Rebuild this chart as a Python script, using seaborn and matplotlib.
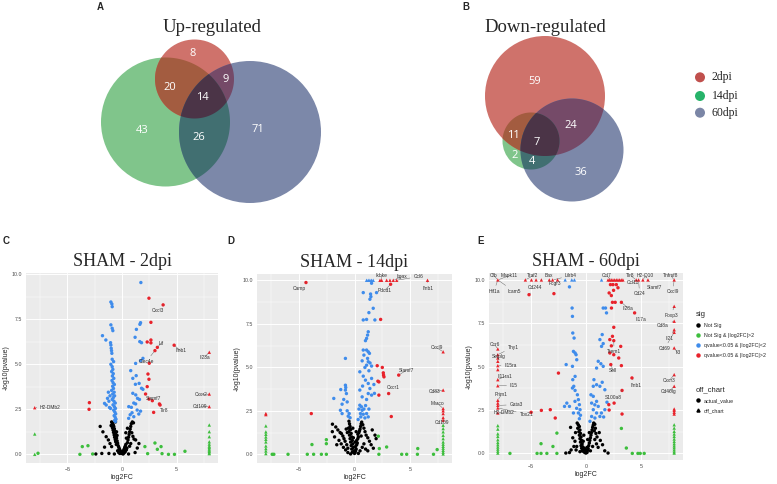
import numpy as np
import pandas as pd
import matplotlib
matplotlib.use("Agg")
import matplotlib.pyplot as plt
import seaborn as sns
from matplotlib.lines import Line2D
from matplotlib.patches import Circle, Polygon

# --------------------------------------------------------------------------- #
# Datos
# --------------------------------------------------------------------------- #
UP_COUNTS = ["8", "20", "9", "14", "43", "26", "71"]          # 2, 2&14, 2&60, all, 14, 14&60, 60
DOWN_COUNTS = ["59", "11", "7", "24", "2", "4", "36"]         # 2, 2&14, all, 2&60, 14, 14&60, 60
VENN_SETS = ["2dpi", "14dpi", "60dpi"]

SIG_ORDER = ["Not Sig", "Not Sig & |log2FC|>2",
             "qvalue<0.05 & |log2FC|<2", "qvalue<0.05 & |log2FC|>2"]
SHAPE_ORDER = ["actual_value", "off_chart"]
PANEL_TITLES = ["SHAM - 2dpi", "SHAM - 14dpi", "SHAM - 60dpi"]

# ---- SHAM - 2dpi (log2FC, -log10 p) ----
c_black = [(-0.90, 1.75), (-0.85, 1.68), (-0.80, 1.62), (-0.75, 1.55), (-0.88, 1.48), (-0.70, 1.42),
           (-0.82, 1.35), (-0.65, 1.30), (-0.78, 1.22), (-0.60, 1.15), (-0.72, 1.08), (-0.55, 1.02),
           (-0.68, 0.95), (-0.50, 0.90), (-0.62, 0.82), (-0.45, 0.75), (-0.58, 0.70), (-0.40, 0.62),
           (-0.52, 0.55), (-0.35, 0.48), (-0.30, 0.40), (-0.25, 0.32), (-0.20, 0.25), (-0.15, 0.18),
           (-0.10, 0.12), (-0.05, 0.08), (0.00, 0.05), (0.05, 0.10), (0.10, 0.15), (0.15, 0.22),
           (0.20, 0.30), (0.25, 0.38), (0.30, 0.45), (0.35, 0.55), (-0.40, 0.20), (-0.30, 0.10),
           (-0.20, 0.05), (0.10, 0.02), (0.20, 0.08), (0.30, 0.15), (0.40, 0.25), (0.45, 0.35),
           (0.50, 0.65), (0.55, 0.80), (0.60, 0.95), (0.65, 1.10), (0.70, 1.25), (0.75, 1.40),
           (0.80, 1.55), (0.85, 1.70), (0.95, 1.80), (1.05, 1.75), (0.90, 1.20), (1.00, 1.00),
           (1.10, 0.85), (0.80, 0.60), (0.70, 0.45), (-2.00, 1.55), (-1.75, 1.25), (-1.45, 0.98),
           (-1.25, 0.80), (-1.10, 0.60), (-0.95, 0.43), (-1.85, 0.05), (-1.20, 0.05), (-0.70, 0.02),
           (1.25, 0.80), (1.55, 0.60), (1.40, 0.35), (1.20, 0.10), (0.60, 0.02), (-0.95, 1.80),
           (-0.60, 1.80), (-1.00, 1.60), (-0.50, 1.25), (-0.45, 1.05), (0.40, 0.90), (0.35, 1.20),
           (0.50, 1.45), (-1.60, 0.40), (-2.40, 0.02)]
c_green = [(-8, 1.13), (-8, 0.0), (-7.7, 0.06), (-3.64, 0.43), (-3.12, 0.48), (-2.69, 0.02),
           (-3.86, 0.0), (2.10, 0.43), (2.35, 0.04), (3.02, 0.63), (3.24, 0.28), (3.58, 0.43),
           (3.67, 0.04), (4.26, 0.0), (4.81, 0.0), (5.77, 0.17), (8, 1.63), (8, 1.26), (8, 0.98),
           (8, 0.70), (8, 0.57), (8, 0.46), (8, 0.39), (8, 0.31), (8, 0.24), (8, 0.17), (8, 0.09),
           (8, 0.04)]
c_blue = [(-0.90, 5.28), (-0.77, 5.15), (-1.02, 5.00), (-0.90, 4.87), (-0.84, 4.72), (-0.95, 4.60),
          (-0.80, 4.48), (-0.88, 4.35), (-0.75, 4.22), (-0.92, 4.10), (-0.82, 3.98), (-0.70, 3.88),
          (-0.86, 3.78), (-0.78, 3.66), (-0.95, 3.55), (-0.72, 3.45), (-0.85, 3.35), (-0.68, 3.25),
          (-0.80, 3.15), (-0.90, 3.05), (-0.74, 2.95), (-0.62, 2.85), (-0.82, 2.75), (-0.70, 2.65),
          (-0.60, 2.55), (-0.76, 2.45), (-0.66, 2.35), (-0.58, 2.25), (-0.72, 2.15), (-0.62, 2.05),
          (-0.55, 1.95), (-0.68, 1.88), (-0.60, 1.82), (-1.02, 8.46), (-0.93, 8.35), (-0.90, 8.20),
          (-1.02, 7.19), (-0.90, 7.00), (-0.84, 6.87), (-1.79, 6.59), (-1.48, 6.35), (-1.02, 6.07),
          (-0.99, 5.89), (-0.96, 5.76), (-0.93, 5.61), (-1.05, 6.20), (-1.60, 2.83), (-1.33, 3.11),
          (-1.45, 2.74), (-1.10, 3.25), (-1.20, 2.95), (-1.05, 2.55), (-1.25, 3.45), (-1.15, 2.60),
          (1.73, 9.54), (1.70, 7.31), (1.64, 7.22), (1.32, 6.94), (1.63, 6.26), (1.79, 6.20),
          (1.20, 6.50), (1.92, 5.33), (1.70, 5.20), (1.25, 5.05), (0.80, 4.65), (1.30, 4.37),
          (0.99, 4.22), (1.57, 3.94), (1.23, 3.89), (1.79, 3.67), (1.92, 3.61), (0.99, 3.39),
          (1.26, 3.30), (1.42, 3.11), (1.60, 3.05), (0.62, 2.65), (0.86, 2.61), (1.08, 2.85),
          (1.25, 2.80), (1.39, 2.46), (0.92, 2.31), (0.61, 2.00), (1.08, 2.09), (1.54, 2.24),
          (1.70, 2.40), (0.75, 2.20)]
c_red = [(2.47, 8.67), (3.77, 8.30), (2.65, 7.33), (2.31, 6.24), (2.65, 6.35), (2.65, 6.19),
         (3.24, 5.94), (3.02, 5.76), (4.78, 6.06), (2.50, 5.06), (8, 5.67), (2.38, 4.46),
         (2.47, 4.17), (2.31, 3.76), (2.16, 3.35), (2.47, 3.07), (2.78, 2.98), (3.43, 2.80),
         (3.49, 2.74), (2.90, 2.33), (8, 3.35), (8, 2.65), (-2.99, 2.87), (-3.02, 2.50), (-8, 2.59)]
c_genes = ["Cxcl3", "Lif", "Ifnb1", "Clec4e", "Il23a", "Cxcr2", "Cd109", "Slamf7", "Tlr8", "H2-DMb2"]
c_gene_pts = [(3.77, 8.30), (3.24, 5.94), (4.78, 6.06), (3.02, 5.76), (8, 5.67), (8, 3.35),
              (8, 2.65), (2.78, 2.98), (3.43, 2.80), (-8, 2.59)]

# ---- SHAM - 14dpi ----
d_black = [(-1.99, 1.73), (-1.69, 1.57), (-1.50, 1.40), (-1.30, 1.25), (-1.18, 1.19), (-1.05, 1.05),
           (-0.95, 0.90), (-0.85, 0.75), (-1.40, 0.80), (-1.20, 0.60), (-1.00, 0.40), (-0.80, 0.25),
           (-0.60, 0.10), (-1.60, 0.55), (-0.50, 1.90), (-0.45, 1.75), (-0.40, 1.60), (-0.55, 1.50),
           (-0.35, 1.42), (-0.50, 1.30), (-0.30, 1.20), (-0.45, 1.10), (-0.25, 1.00), (-0.40, 0.90),
           (-0.20, 0.80), (-0.35, 0.70), (-0.15, 0.60), (-0.30, 0.50), (-0.10, 0.40), (-0.25, 0.30),
           (-0.05, 0.20), (-0.20, 0.12), (0.00, 0.05), (0.05, 0.10), (0.10, 0.20), (0.15, 0.30),
           (0.10, 0.45), (0.20, 0.55), (0.25, 0.65), (0.20, 0.80), (0.30, 0.90), (0.35, 1.00),
           (0.30, 1.15), (0.40, 1.25), (0.45, 1.35), (0.50, 1.45), (0.55, 1.60), (0.60, 1.75),
           (0.65, 1.85), (0.75, 1.70), (0.85, 1.50), (0.95, 1.30), (1.05, 1.10), (1.20, 0.95),
           (1.35, 0.75), (1.50, 0.55), (1.70, 0.35), (1.85, 1.10), (1.95, 0.90), (0.70, 0.40),
           (0.50, 0.20), (0.35, 0.05), (-0.35, 0.02), (-0.70, 0.55), (-0.60, 0.35), (0.85, 0.60),
           (1.00, 0.30), (0.60, 1.05), (-0.65, 1.25), (-0.75, 1.45), (-0.15, 1.50), (0.15, 1.30),
           (-0.10, 0.95), (0.05, 0.70), (-2.00, 1.30), (-1.80, 1.00), (1.60, 1.40), (1.20, 0.20)]
d_green = [(-8, 1.63), (-8, 1.29), (-8, 1.15), (-8, 1.00), (-8, 0.86), (-8, 0.71), (-8, 0.48),
           (-8, 0.33), (-8, 0.19), (-8, 0.04), (-7.43, 0.0), (-7.28, 0.0), (-6.0, 0.0), (-4.26, 0.0),
           (-3.69, 0.0), (-2.99, 0.0), (-2.54, 0.0), (-3.84, 0.56), (-2.54, 0.84), (-2.54, 0.61),
           (2.15, 1.04), (2.24, 0.33), (2.20, 0.0), (2.90, 0.42), (4.26, 0.0), (4.71, 0.0),
           (5.71, 0.33), (5.68, 0.0), (7.13, 0.0), (7.46, 0.27), (8, 1.67), (8, 1.48), (8, 1.29),
           (8, 1.09), (8, 0.90), (8, 0.71), (8, 0.58), (8, 0.46), (8, 0.35), (8, 0.23), (8, 0.12),
           (8, 0.02)]
d_blue = [(1.09, 10), (1.24, 10), (1.39, 10), (1.54, 10), (1.69, 10), (1.54, 9.83), (0.79, 9.29),
          (1.45, 9.21), (1.99, 9.29), (1.48, 9.06), (1.39, 8.91), (1.69, 8.39), (1.30, 8.14),
          (0.79, 7.72), (1.09, 7.75), (1.84, 7.72), (1.24, 7.04), (1.18, 6.85), (1.09, 6.66),
          (0.99, 6.53), (0.79, 5.99), (1.09, 5.99), (1.24, 5.89), (1.35, 5.80), (0.85, 5.70),
          (-0.82, 5.51), (1.18, 5.51), (1.24, 5.32), (1.40, 5.25), (0.69, 5.37), (1.09, 5.12),
          (1.54, 5.07), (0.94, 4.99), (0.48, 4.74), (1.30, 4.80), (0.79, 4.49), (1.54, 4.36),
          (0.99, 4.26), (1.24, 4.07), (1.75, 4.01), (0.73, 3.92), (1.39, 3.78), (0.48, 3.69),
          (1.24, 3.49), (1.54, 3.40), (0.69, 3.30), (1.09, 3.15), (1.80, 3.50), (-0.82, 3.97),
          (-0.79, 3.84), (-1.24, 3.72), (-0.82, 3.69), (-0.73, 3.49), (-1.87, 3.21), (-0.97, 3.15),
          (-0.66, 3.01), (-1.12, 2.88), (-1.27, 2.53), (-1.12, 2.34), (-0.66, 2.50), (-0.48, 2.34),
          (-0.57, 2.19), (-0.40, 2.10), (0.48, 2.82), (0.63, 2.73), (0.40, 2.60), (0.69, 2.53),
          (0.54, 2.34), (0.79, 2.30), (1.09, 2.34), (0.57, 2.15), (0.94, 2.09), (1.24, 2.15),
          (0.33, 2.00), (0.85, 2.60), (1.00, 2.80), (1.30, 2.60)]
d_red = [(2.30, 10), (2.45, 10), (2.90, 10), (3.20, 10), (3.50, 10), (3.81, 10), (6.59, 10),
         (-4.38, 9.87), (3.26, 9.77), (2.36, 7.75), (2.05, 5.09), (2.51, 4.99), (2.60, 4.68),
         (2.62, 4.55), (2.66, 4.45), (2.11, 4.20), (2.20, 4.16), (3.99, 4.55), (3.08, 3.49),
         (2.20, 3.40), (3.32, 2.17), (-3.90, 2.34), (-8, 2.34), (-8, 2.28), (8, 5.89), (8, 3.69),
         (8, 2.63), (8, 2.50), (8, 2.34), (8, 2.11), (8, 1.96)]
d_genes = ["Camp", "Ikbke", "Itgax", "Ccl6", "Ifnb1", "Pdcd1", "Cxcl9", "Slamf7", "Cxcr1",
           "Cd83", "Marco", "Cd109"]
d_gene_pts = [(-4.38, 9.87), (2.45, 10), (3.50, 10), (3.81, 10), (6.59, 10), (3.26, 9.77),
              (8, 5.89), (3.99, 4.55), (3.08, 3.49), (8, 3.69), (8, 2.63), (8, 1.96)]

# ---- SHAM - 60dpi ----
e_black = [(-1.83, 0.02), (-0.84, 0.40), (2.00, 0.02), (-1.20, 0.90), (-1.00, 0.70), (-0.80, 1.75),
           (-0.70, 1.65), (-0.60, 1.55), (-0.75, 1.45), (-0.55, 1.35), (-0.65, 1.25), (-0.50, 1.15),
           (-0.60, 1.05), (-0.45, 0.95), (-0.55, 0.85), (-0.40, 0.75), (-0.50, 0.65), (-0.35, 0.55),
           (-0.45, 0.45), (-0.30, 0.38), (-0.40, 0.30), (-0.25, 0.22), (-0.35, 0.15), (-0.20, 0.10),
           (-0.10, 0.05), (0.00, 0.02), (0.10, 0.06), (0.05, 0.12), (0.15, 0.18), (0.20, 0.28),
           (0.10, 0.35), (-0.15, 0.30), (-0.05, 0.20), (0.25, 0.45), (0.30, 0.60), (0.35, 0.75),
           (0.40, 0.90), (0.45, 1.05), (0.50, 1.20), (0.55, 1.35), (0.60, 1.50), (0.65, 1.62),
           (0.70, 1.75), (0.80, 1.68), (0.85, 1.45), (0.75, 1.30), (0.90, 1.15), (1.00, 0.95),
           (0.80, 0.80), (0.95, 0.55), (0.60, 0.40), (1.10, 0.35), (1.30, 0.75), (1.50, 0.50),
           (1.20, 1.20), (-1.10, 0.40), (-0.90, 0.20), (-1.35, 0.20), (-0.95, 1.20), (-1.40, 1.50),
           (0.30, 1.20), (-0.20, 1.05), (-0.25, 0.70), (0.15, 0.80), (0.40, 0.15), (-0.55, 0.10),
           (1.70, 0.15), (-1.50, 0.05)]
e_green = [(-8, 1.60), (-8, 1.40), (-8, 1.13), (-8, 0.98), (-8, 0.79), (-8, 0.63), (-8, 0.50),
           (-8, 0.37), (-8, 0.25), (-8, 0.13), (-8, 0.02), (-6.9, 0.0), (-4.44, 0.0), (-4.08, 0.0),
           (-3.55, 0.0), (-4.08, 0.56), (-3.0, 0.40), (-2.64, 1.17), (-2.64, 0.0), (3.66, 0.31),
           (3.21, 1.44), (4.20, 0.0), (4.71, 0.0), (4.92, 0.0), (5.28, 0.0), (8, 1.65), (8, 1.46),
           (8, 1.27), (8, 1.12), (8, 0.98), (8, 0.83), (8, 0.69), (8, 0.56), (8, 0.44), (8, 0.33),
           (8, 0.21), (8, 0.10), (8, 0.02)]
e_blue = [(-1.89, 10), (-1.29, 10), (-1.05, 10), (1.41, 10), (-1.50, 9.60), (-1.26, 8.38),
          (-1.23, 7.90), (-1.20, 6.94), (-1.08, 6.65), (1.56, 8.38), (1.77, 8.38), (1.86, 8.10),
          (1.47, 6.85), (1.26, 6.56), (1.56, 6.33), (1.41, 6.17), (-1.14, 5.88), (-0.99, 5.79),
          (-0.90, 5.69), (-0.84, 5.40), (-1.80, 5.12), (-1.23, 5.02), (-0.99, 4.44), (-1.20, 4.25),
          (1.11, 5.31), (1.35, 5.17), (0.96, 4.92), (1.56, 5.02), (0.72, 4.25), (0.96, 3.96),
          (0.66, 3.87), (1.26, 3.87), (1.47, 4.10), (1.71, 3.67), (-1.11, 3.87), (-1.23, 3.77),
          (-0.99, 3.63), (-0.78, 3.38), (-0.69, 3.10), (-0.60, 2.81), (-0.54, 2.52), (-0.69, 2.33),
          (-0.50, 2.20), (-1.74, 2.90), (-1.50, 2.71), (-1.95, 2.71), (-1.14, 2.33), (-0.85, 2.60),
          (0.45, 3.38), (0.66, 3.29), (0.96, 3.00), (0.51, 2.90), (1.11, 2.71), (0.66, 2.52),
          (0.96, 2.33), (1.26, 2.13), (1.40, 2.33), (1.71, 2.52), (0.51, 2.13), (0.81, 2.04),
          (0.36, 1.85), (1.60, 2.10), (-0.60, 2.00), (1.90, 2.95), (0.80, 2.80), (-1.00, 3.00)]
e_red = [(-8, 10), (-5.5, 10), (-4.95, 10), (-4.53, 10), (-4.05, 10), (-3.33, 10), (-3.03, 10),
         (-2.58, 10), (2.00, 10), (2.15, 10), (2.30, 10), (2.45, 10), (2.60, 10), (2.75, 10),
         (2.90, 10), (3.05, 10), (3.20, 10), (3.35, 10), (4.56, 10), (4.77, 10), (5.16, 10),
         (5.62, 10), (8, 10), (-5.17, 9.15), (-2.91, 9.21), (2.22, 9.73), (2.45, 9.73),
         (2.75, 9.73), (2.90, 9.55), (2.10, 9.25), (2.30, 9.10), (2.50, 9.40), (2.40, 8.71),
         (2.65, 8.71), (3.21, 8.71), (2.31, 8.38), (4.41, 8.10), (2.52, 7.27), (2.40, 6.75),
         (2.16, 6.56), (2.52, 6.50), (3.15, 6.17), (2.30, 6.20), (2.16, 5.79), (2.52, 5.69),
         (2.97, 5.50), (3.21, 5.06), (2.25, 5.12), (4.17, 4.35), (3.27, 3.63), (2.07, 2.81),
         (2.55, 2.90), (3.27, 2.27), (2.10, 2.50), (-4.98, 2.37), (-4.05, 2.48), (-3.24, 2.52),
         (-2.79, 2.04), (-2.50, 4.63), (8, 8.48), (8, 7.62), (8, 7.13), (8, 6.98), (8, 6.08),
         (8, 4.54), (8, 3.87), (8, 2.56), (8, 2.48), (8, 2.37), (8, 2.27), (-8, 6.02), (-8, 5.69),
         (-8, 5.50), (-8, 5.31), (-8, 5.06), (-8, 4.83), (-8, 4.25), (-8, 3.90), (-8, 3.06),
         (-8, 2.90), (-8, 2.77), (-8, 2.62), (-8, 2.33)]
e_genes = ["Cfb", "Mapk11", "Traf2", "Bax", "Lilrb4", "Hif1a", "Icam5", "Cd244", "Fcgr3",
           "Ccr6", "Thy1", "Selplg", "Il15ra", "Il11ra1", "Il15", "Prim1", "Gata3", "H2-DMb2",
           "Tbx21", "Ccl7", "Tlr8", "H2-Q10", "Tnfrsf8", "Ccl11", "Slamf7", "Cd24", "Cxcl9",
           "Il28a", "Il17a", "Foxp3", "Cd8a", "Il21", "Cd69", "Il3", "Trem1", "Sell", "Ifnb1",
           "S100a8", "Cxcr3", "Cd40lg"]
e_gene_pts = [(-8, 10), (-8, 10), (-5.5, 10), (-4.05, 10), (-3.03, 10), (-8, 10), (-8, 10),
              (-5.17, 9.15), (-2.58, 10), (-8, 6.02), (-8, 5.69), (-8, 5.31), (-8, 5.06),
              (-8, 4.25), (-8, 3.90), (-8, 3.06), (-8, 2.77), (-8, 2.33), (-8, 2.62), (2.30, 10),
              (4.56, 10), (5.16, 10), (8, 10), (4.56, 10), (5.62, 10), (4.77, 10), (8, 10),
              (3.21, 8.71), (4.41, 8.10), (8, 8.48), (8, 7.62), (8, 7.13), (8, 6.98), (8, 6.08),
              (2.52, 6.50), (2.25, 5.12), (4.17, 4.35), (3.27, 3.63), (8, 4.54), (8, 3.87)]

# --------------------------------------------------------------------------- #
# Layout / estilo
# --------------------------------------------------------------------------- #
W, H = 777, 484
SIG_COLORS = dict(zip(SIG_ORDER, ["#000000", "#3DBE3D", "#3F8CEB", "#E8222B"]))
SHAPES = dict(zip(SHAPE_ORDER, ["o", "^"]))
SERIF = "Liberation Serif"
SANS = "Liberation Sans"
GENE_FS = 3.5

# label text anchors (data coords)
c_label_pos = [(3.30, 7.96), (3.58, 6.17), (5.40, 5.74), (2.22, 5.15), (7.56, 5.39), (7.25, 3.30),
               (7.19, 2.65), (2.87, 3.09), (3.86, 2.46), (-6.55, 2.59)]
d_label_pos = [(-4.95, 9.52), (2.45, 10.25), (4.26, 10.21), (5.77, 10.21), (6.59, 9.54),
               (2.75, 9.44), (7.43, 6.12), (4.71, 4.84), (3.50, 3.84), (7.19, 3.59), (7.49, 2.92),
               (7.89, 1.82)]
e_label_pos = [(-8.35, 10.25), (-6.94, 10.25), (-4.80, 10.25), (-3.33, 10.25), (-1.38, 10.25),
               (-8.35, 9.35), (-6.55, 9.35), (-4.59, 9.58), (-2.79, 9.79), (-8.29, 6.27),
               (-6.61, 6.13), (-7.90, 5.56), (-6.85, 5.06), (-7.36, 4.44), (-6.55, 3.90),
               (-7.69, 3.38), (-6.34, 2.81), (-7.45, 2.33), (-5.41, 2.27), (1.86, 10.25),
               (4.05, 10.25), (5.40, 10.25), (7.70, 10.25), (4.26, 9.83), (6.22, 9.58),
               (4.86, 9.19), (7.87, 9.31), (3.81, 8.38), (5.02, 7.71), (7.72, 7.94), (6.97, 7.37),
               (7.57, 6.62), (7.12, 6.04), (8.32, 5.79), (2.55, 5.85), (2.46, 4.79), (4.56, 3.90),
               (2.46, 3.25), (7.57, 4.21), (7.51, 3.54)]

# axes rectangles in pixels (left, top, right, bottom)
AX_PX = [(26, 273, 218, 463), (257, 274, 452, 463), (489, 273, 683, 460)]
YLIMS = [(-0.48, 10.07), (-0.5, 10.36), (-0.38, 10.4)]


def make_df(groups):
    rows = []
    for sig, pts in zip(SIG_ORDER, groups):
        for x, y in pts:
            off = "off_chart" if (abs(x) >= 8 or y >= 10) else "actual_value"
            rows.append({"log2FC": x, "nlp": y, "sig": sig, "off_chart": off})
    return pd.DataFrame(rows)


def circ_pts(c, n=720):
    t = np.linspace(0, 2 * np.pi, n, endpoint=False)
    return np.column_stack([c[0] + c[2] * np.cos(t), c[1] + c[2] * np.sin(t)])


def region(circles):
    """Intersección (convexa) de varios círculos como polígono."""
    pts = []
    for i, c in enumerate(circles):
        p = circ_pts(c)
        m = np.ones(len(p), bool)
        for j, d in enumerate(circles):
            if j != i:
                m &= (p[:, 0] - d[0]) ** 2 + (p[:, 1] - d[1]) ** 2 <= d[2] ** 2
        pts.append(p[m])
    pts = np.vstack(pts)
    ctr = pts.mean(0)
    ang = np.arctan2(pts[:, 1] - ctr[1], pts[:, 0] - ctr[0])
    return pts[np.argsort(ang)]


def venn(ax, circles, counts, count_pos, title, title_pos):
    red, green, blue = circles
    base = ["#CF726B", "#80C58B", "#7C88A9"]
    for c, col in zip([green, red, blue], [base[1], base[0], base[2]]):
        ax.add_patch(Circle((c[0], c[1]), c[2], color=col, lw=0, zorder=1))
    for pair, col in [((red, green), "#A35C40"), ((red, blue), "#754A68"),
                      ((green, blue), "#416F71")]:
        ax.add_patch(Polygon(region(pair), closed=True, color=col, lw=0, zorder=2))
    ax.add_patch(Polygon(region([red, green, blue]), closed=True, color="#4B3447", lw=0, zorder=3))
    for txt, (x, y) in zip(counts, count_pos):
        ax.text(x, y, txt, color="white", fontsize=8, ha="center", va="center",
                family="Open Sans", zorder=4)
    ax.text(title_pos[0], title_pos[1], title, fontsize=13.5, family=SERIF,
            ha="center", va="center")


def volcano(ax, df, genes, gene_pts, label_pos, title, ylim):
    ax.set_facecolor("#EBEBEB")
    ax.set_axisbelow(True)
    sns.scatterplot(data=df, x="log2FC", y="nlp", hue="sig", style="off_chart",
                    palette=SIG_COLORS, markers=SHAPES, hue_order=SIG_ORDER,
                    style_order=SHAPE_ORDER, s=6, linewidth=0, legend=False, ax=ax, zorder=3)
    ax.set_xlim(-8.8, 8.8)
    ax.set_ylim(*ylim)
    ax.set_xticks([-5, 0, 5])
    ax.set_xticks([-7.5, -2.5, 2.5, 7.5], minor=True)
    ax.set_yticks([0, 2.5, 5, 7.5, 10])
    ax.set_yticklabels(["0.0", "2.5", "5.0", "7.5", "10.0"])
    ax.set_yticks([1.25, 3.75, 6.25, 8.75], minor=True)
    ax.grid(which="major", color="white", lw=0.7)
    ax.grid(which="minor", color="white", lw=0.35)
    for s in ax.spines.values():
        s.set_visible(False)
    ax.tick_params(which="major", length=2, width=0.5, color="#333333", labelsize=3.8,
                   labelcolor="#4D4D4D", pad=1)
    ax.tick_params(which="minor", length=0)
    for lab in ax.get_xticklabels() + ax.get_yticklabels():
        lab.set_family(SANS)
    ax.set_xlabel("log2FC", fontsize=5, family=SANS, labelpad=1.5)
    ax.set_ylabel("-log10(pvalue)", fontsize=5, family=SANS, labelpad=1.5)
    for g, (px, py), (tx, ty) in zip(genes, gene_pts, label_pos):
        ax.annotate(g, xy=(px, py), xytext=(tx, ty), fontsize=GENE_FS, family=SANS,
                    color="#333333", ha="center", va="center", zorder=5,
                    arrowprops=dict(arrowstyle="-", lw=0.3, color="#555555",
                                    shrinkA=0, shrinkB=1))
    ax.set_title(title, fontsize=13, family=SERIF, pad=5)


# --------------------------------------------------------------------------- #
# Figura
# --------------------------------------------------------------------------- #
sns.set_theme(style="whitegrid")
plt.rcParams["font.family"] = ["DejaVu Sans"]

fig = plt.figure(figsize=(W / 100, H / 100), dpi=100)
bg = fig.add_axes([0, 0, 1, 1])
bg.set_xlim(0, W)
bg.set_ylim(H, 0)
bg.axis("off")

# Venn A (Up-regulated) & B (Down-regulated): (cx, cy, r) in px
venn(bg, [(194.5, 79, 39.5), (165.5, 122, 64.5), (250, 132, 71)], UP_COUNTS,
     [(193, 53), (170, 87), (225.7, 79), (202, 98), (141.7, 130.7), (199, 138), (258, 129)],
     "Up-regulated", (212, 27))
venn(bg, [(545, 96, 60), (531, 141, 28.5), (572, 150, 51.5)], DOWN_COUNTS,
     [(535, 82), (513.7, 136), (536.7, 142.7), (570.7, 125), (514.3, 155.7), (532, 161), (581, 172.7)],
     "Down-regulated", (545, 28))

for name, col, y in zip(VENN_SETS, ["#C0504D", "#27B36A", "#7B86A6"], [77.3, 96, 112.7]):
    bg.add_patch(Circle((700, y), 5, color=col, lw=0))
    bg.text(711.5, y, name, fontsize=8.5, family=SERIF, va="center", ha="left")

for letter, (x, y) in zip("ABCDE", [(100, 7), (466, 7), (6, 241), (231, 241), (481, 241)]):
    bg.text(x, y, letter, fontsize=7, fontweight="bold", family=SANS, ha="center", va="center")

panels = [
    (make_df([c_black, c_green, c_blue, c_red]), c_genes, c_gene_pts, c_label_pos),
    (make_df([d_black, d_green, d_blue, d_red]), d_genes, d_gene_pts, d_label_pos),
    (make_df([e_black, e_green, e_blue, e_red]), e_genes, e_gene_pts, e_label_pos),
]
axes = []
for (l, t, r, b), (df, genes, gpts, lpos), title, ylim in zip(AX_PX, panels, PANEL_TITLES, YLIMS):
    ax = fig.add_axes([l / W, 1 - b / H, (r - l) / W, (b - t) / H])
    volcano(ax, df, genes, gpts, lpos, title, ylim)
    axes.append(ax)

# legends (ggplot-like, right of panel E)
sig_handles = [Line2D([], [], marker="o", ls="", color=SIG_COLORS[s], markersize=2.2)
               for s in SIG_ORDER]
leg1 = fig.legend(sig_handles, SIG_ORDER, title="sig", loc="upper left",
                  bbox_to_anchor=(694 / W, 1 - 309 / H), frameon=False,
                  prop={"family": SANS, "size": 3.8}, handlelength=0.8, handletextpad=0.6,
                  labelspacing=0.95, borderaxespad=0, alignment="left")
leg1.get_title().set_fontsize(5.5)
leg1.get_title().set_family(SANS)
shape_handles = [Line2D([], [], marker=SHAPES[s], ls="", color="black", markersize=2.2)
                 for s in SHAPE_ORDER]
leg2 = fig.legend(shape_handles, SHAPE_ORDER, title="off_chart", loc="upper left",
                  bbox_to_anchor=(694 / W, 1 - 384 / H), frameon=False,
                  prop={"family": SANS, "size": 3.8}, handlelength=0.8, handletextpad=0.6,
                  labelspacing=0.95, borderaxespad=0, alignment="left")
leg2.get_title().set_fontsize(5.5)
leg2.get_title().set_family(SANS)

fig.savefig("out.png", dpi=100)
